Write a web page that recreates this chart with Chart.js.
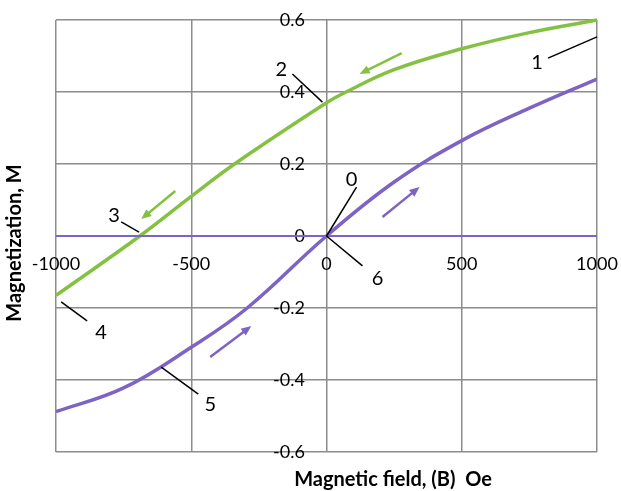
<!DOCTYPE html>
<html lang="en">

<head>
  <meta charset="UTF-8">
  <title>Magnetization curve</title>
  <style>
    html, body { margin: 0; padding: 0; background: #fff; }
    #wrap { width: 621px; height: 491px; }
  </style>
</head>

<body>
  <div id="wrap">
    <canvas id="chart"></canvas>
  </div>

  <script src="https://cdn.jsdelivr.net/npm/chart.js"></script>
  <script>
    // field values (Oe) and magnetization for each branch
    const fieldDown = [1000, 750, 500, 250, 72, 0, -340, -500, -690, -1000];
    const magDown = [0.6, 0.565, 0.52, 0.462, 0.4, 0.37, 0.2, 0.11, 0, -0.165];

    const fieldUp = [-1000, -750, -500, -293, 0, 250, 500, 750, 1000];
    const magUp = [-0.488, -0.422, -0.309, -0.2, 0, 0.15, 0.265, 0.355, 0.436];

    const fieldZero = [-1000, 1000];
    const magZero = [0, 0];

    const xTicks = [-1000, -500, 0, 500, 1000];
    const xTickLabels = ['-1000', '-500', '0', '500', '1000'];
    const yTicks = [-0.6, -0.4, -0.2, 0, 0.2, 0.4, 0.6];
    const yTickLabels = ['-0.6', '-0.4', '-0.2', '0', '0.2', '0.4', '0.6'];

    // numbered points: label position, leader line start and end
    const markLabels = ['1', '2', '3', '4', '5', '0', '6'];
    const markText = [[778, 0.483], [-167, 0.461], [-785, 0.056], [-833, -0.269], [-430, -0.469], [93, 0.158], [189, -0.119]];
    const markFrom = [[819, 0.494], [-126, 0.45], [-759, 0.039], [-981, -0.183], [-611, -0.364], [111, 0.136], [0, 0]];
    const markTo = [[1000, 0.553], [-15, 0.372], [-693, 0.011], [-885, -0.236], [-474, -0.439], [0, 0], [133, -0.083]];

    // direction arrows along each branch
    const greenArrows = [[[278, 0.508], [122, 0.45]], [[-559, 0.125], [-685, 0.047]]];
    const purpleArrows = [[[207, 0.053], [344, 0.136]], [[-430, -0.336], [-278, -0.25]]];

    const GREEN = '#84c143';
    const PURPLE = '#7d63c4';
    const GRID = '#8c8c8c';

    const toPoints = (xs, ys) => xs.map((x, i) => ({ x: x, y: ys[i] }));

    // keep the plot area where the layout padding puts it
    const noEdgePadding = s => {
      s.paddingLeft = s.paddingRight = s.paddingTop = s.paddingBottom = 0;
    };

    function arrow(ctx, x1, y1, x2, y2, color) {
      const a = Math.atan2(y2 - y1, x2 - x1);
      const head = 11;
      ctx.strokeStyle = color;
      ctx.fillStyle = color;
      ctx.lineWidth = 2.5;
      ctx.beginPath();
      ctx.moveTo(x1, y1);
      ctx.lineTo(x2 - Math.cos(a) * head * 0.7, y2 - Math.sin(a) * head * 0.7);
      ctx.stroke();
      ctx.beginPath();
      ctx.moveTo(x2, y2);
      ctx.lineTo(x2 - head * Math.cos(a - 0.4), y2 - head * Math.sin(a - 0.4));
      ctx.lineTo(x2 - head * Math.cos(a + 0.4), y2 - head * Math.sin(a + 0.4));
      ctx.closePath();
      ctx.fill();
    }

    const extras = {
      id: 'extras',
      afterDatasetsDraw(chart) {
        const { ctx, scales: { x, y } } = chart;
        const px = v => x.getPixelForValue(v);
        const py = v => y.getPixelForValue(v);
        ctx.save();

        greenArrows.forEach(([a, b]) => arrow(ctx, px(a[0]), py(a[1]), px(b[0]), py(b[1]), GREEN));
        purpleArrows.forEach(([a, b]) => arrow(ctx, px(a[0]), py(a[1]), px(b[0]), py(b[1]), PURPLE));

        ctx.strokeStyle = '#000';
        ctx.lineWidth = 1.5;
        markLabels.forEach((t, i) => {
          ctx.beginPath();
          ctx.moveTo(px(markFrom[i][0]), py(markFrom[i][1]));
          ctx.lineTo(px(markTo[i][0]), py(markTo[i][1]));
          ctx.stroke();
        });

        ctx.fillStyle = '#000';
        ctx.font = '20px Lato';
        ctx.textAlign = 'center';
        ctx.textBaseline = 'middle';
        markLabels.forEach((t, i) => {
          ctx.fillText(t, px(markText[i][0]), py(markText[i][1]));
        });

        // axis titles
        ctx.font = 'bold 20px Lato';
        ctx.fillText('Magnetic field, (B)  Oe', 393, 480);
        ctx.translate(15, 243);
        ctx.rotate(-Math.PI / 2);
        ctx.fillText('Magnetization, M', 0, 0);
        ctx.restore();
      }
    };

    new Chart(document.getElementById('chart'), {
      type: 'line',
      data: {
        datasets: [
          {
            data: toPoints(fieldZero, magZero),
            borderColor: PURPLE,
            borderWidth: 2,
            pointRadius: 0,
          },
          {
            data: toPoints(fieldDown, magDown),
            borderColor: GREEN,
            borderWidth: 3.5,
            pointRadius: 0,
            tension: 0.4,
            clip: false,
          },
          {
            data: toPoints(fieldUp, magUp),
            borderColor: PURPLE,
            borderWidth: 3.5,
            pointRadius: 0,
            tension: 0.4,
          },
        ],
      },
      options: {
        responsive: true,
        maintainAspectRatio: false,
        animation: false,
        layout: { padding: { left: 56, right: 24, top: 20, bottom: 39 } },
        plugins: { legend: { display: false }, tooltip: { enabled: false } },
        scales: {
          x: {
            type: 'linear',
            min: -1000,
            max: 1000,
            position: { y: 0 },
            afterBuildTicks: s => { s.ticks = xTicks.map(v => ({ value: v })); },
            afterFit: noEdgePadding,
            ticks: {
              callback: (v, i) => xTickLabels[i],
              color: '#000',
              font: { family: 'Lato', size: 18 },
              padding: 17,
              maxRotation: 0,
            },
            grid: { color: GRID, lineWidth: 1.5, drawTicks: false },
            border: { display: false },
          },
          y: {
            type: 'linear',
            min: -0.6,
            max: 0.6,
            // labels sit a little left of the zero line
            position: { x: -80 },
            afterBuildTicks: s => { s.ticks = yTicks.map(v => ({ value: v })); },
            afterFit: noEdgePadding,
            ticks: {
              callback: (v, i) => yTickLabels[i],
              color: '#000',
              font: { family: 'Lato', size: 18 },
            },
            grid: { color: GRID, lineWidth: 1.5, drawTicks: false },
            border: { display: false },
          },
        },
      },
      plugins: [extras],
    });
  </script>
</body>

</html>
